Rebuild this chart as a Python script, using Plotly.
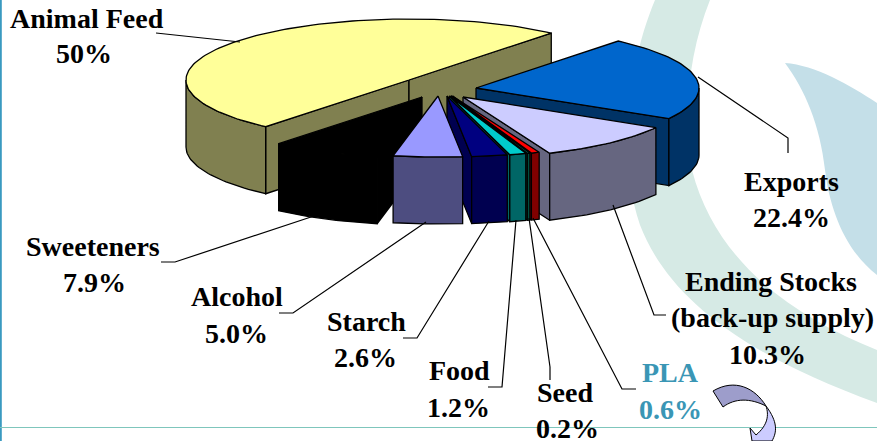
import math
import plotly.graph_objects as go

# ---- data ----
slices = ["Animal Feed", "Exports", "Ending Stocks", "PLA", "Seed", "Food", "Starch", "Alcohol", "Sweeteners"]
values = [50, 22.4, 10.3, 0.6, 0.2, 1.2, 2.6, 5.0, 7.9]

# ---- pie geometry / style ----
W, H = 877, 441
START = 230
RX, RY, DEPTH = 223, 61, 67
apex = {"Animal Feed": (409, 80), "Exports": (476, 88), "Ending Stocks": (463, 97), "PLA": (452.5, 96),
        "Seed": (451, 96), "Food": (449.5, 96), "Starch": (447, 96), "Alcohol": (438, 96), "Sweeteners": (422, 97)}
top_col = {"Animal Feed": "#FFFF99", "Exports": "#0066CC", "Ending Stocks": "#CCCCFF", "PLA": "#FF0000",
           "Seed": "#00806A", "Food": "#00CCCC", "Starch": "#000080", "Alcohol": "#9999FF", "Sweeteners": "#000000"}
side_col = {"Animal Feed": "#808050", "Exports": "#003366", "Ending Stocks": "#666680", "PLA": "#800000",
            "Seed": "#004D40", "Food": "#006666", "Starch": "#000050", "Alcohol": "#4D4D80", "Sweeteners": "#000000"}
paint_order = ["Animal Feed", "Exports", "Ending Stocks", "PLA", "Seed", "Food", "Starch", "Sweeteners", "Alcohol"]

total = sum(values)
angles = {}
cum = 0
for n, v in zip(slices, values):
    a0 = START - cum / total * 360
    cum += v
    angles[n] = (a0, START - cum / total * 360)   # a0 > a1: clockwise on screen


def pt(c, t, dz=0):
    r = math.radians(t)
    return (c[0] + RX * math.cos(r), c[1] - RY * math.sin(r) + dz)


def arc(c, a0, a1, dz=0):
    n = max(2, int(abs(a0 - a1) / 1.5) + 1)
    return [pt(c, a0 + (a1 - a0) * i / (n - 1), dz) for i in range(n)]


fig = go.Figure()


def poly(points, fill):
    xs = [p[0] for p in points] + [points[0][0]]
    ys = [p[1] for p in points] + [points[0][1]]
    fig.add_trace(go.Scatter(x=xs, y=ys, mode="lines", fill="toself", fillcolor=fill,
                             line=dict(color="black", width=1.3), showlegend=False, hoverinfo="skip"))


for n in paint_order:
    c = apex[n]
    a0, a1 = angles[n]
    side = side_col[n]
    # radial walls facing the viewer
    if math.cos(math.radians(a0)) < 0:
        p = pt(c, a0)
        poly([c, p, (p[0], p[1] + DEPTH), (c[0], c[1] + DEPTH)], side)
    if math.cos(math.radians(a1)) > 0:
        p = pt(c, a1)
        poly([c, p, (p[0], p[1] + DEPTH), (c[0], c[1] + DEPTH)], side)
    # outer wall: the part of the rim at the front (180..360 deg)
    for k in (0, -360):
        lo = max(a1, 180 + k)
        hi = min(a0, 360 + k)
        if hi > lo:
            top = arc(c, hi, lo)
            poly(top + arc(c, lo, hi, DEPTH), side)
    # top face
    poly([c] + arc(c, a0, a1), top_col[n])

# leader lines
leaders = [
    [(156, 33), (240, 42)],
    [(698, 77), (788, 138), (788, 153)],
    [(613, 205), (654, 315), (666, 315)],
    [(533, 218), (622, 389), (636, 389)],
    [(529, 218), (550, 367), (550, 380)],
    [(516, 220), (502, 387), (488, 387)],
    [(489, 221), (417, 338), (403, 338)],
    [(426, 222), (293, 313), (279, 313)],
    [(320, 214), (175, 262), (161, 262)],
]
for seg in leaders:
    fig.add_trace(go.Scatter(x=[p[0] for p in seg], y=[p[1] for p in seg], mode="lines",
                             line=dict(color="black", width=1.2), showlegend=False, hoverinfo="skip"))

# labels
BLUE = "#3A96B5"
labels = [
    ("Animal Feed", 87, 18, "black"), ("50%", 84, 53, "black"),
    ("Exports", 791, 181, "black"), ("22.4%", 791, 217, "black"),
    ("Ending Stocks", 771, 281, "black"), ("(back-up supply)", 772, 317, "black"), ("10.3%", 767, 354, "black"),
    ("PLA", 670, 372, BLUE), ("0.6%", 670, 409, BLUE),
    ("Seed", 565, 392, "black"), ("0.2%", 567, 428, "black"),
    ("Food", 459, 370, "black"), ("1.2%", 458, 407, "black"),
    ("Starch", 366, 321, "black"), ("2.6%", 365, 357, "black"),
    ("Alcohol", 237, 296, "black"), ("5.0%", 236, 333, "black"),
    ("Sweeteners", 93, 246, "black"), ("7.9%", 94, 282, "black"),
]
annotations = [dict(x=x, y=y, text=f"<b>{t}</b>", showarrow=False, xanchor="center", yanchor="middle",
                    font=dict(family="Liberation Serif", size=28, color=col)) for t, x, y, col in labels]

shapes = [
    # teal swoosh
    dict(type="path", layer="below", line=dict(width=0), fillcolor="#D6EAE5",
         path="M 655,0 C 630,60 615,150 640,225 C 665,290 730,350 877,403 L 877,350 "
              "C 790,315 715,260 692,170 C 682,110 690,50 710,0 Z"),
    # blue swoosh
    dict(type="path", layer="below", line=dict(width=0), fillcolor="#C4DFE8",
         path="M 785,63 C 815,65 850,85 877,103 L 877,275 C 845,250 830,210 825,170 C 820,125 805,90 785,63 Z"),
    # frame lines
    dict(type="line", layer="below", x0=0.8, x1=0.8, y0=0, y1=441, line=dict(color="#3A9AC0", width=2)),
    dict(type="line", layer="below", x0=0, x1=877, y0=427.5, y1=427.5, line=dict(color="#7FC6BC", width=1.2)),
    # curved arrow
    dict(type="path", line=dict(color="black", width=1), fillcolor="#CCCCFF",
         path="M 766,406 C 778,422 777,432 772,441 L 752,441 L 750,428 L 756,435 C 768,425 769,415 766,406 Z"),
    dict(type="path", line=dict(color="black", width=1), fillcolor="#9D9DCB",
         path="M 713,391 C 735,378 755,388 766,406 C 750,398 735,398 723,407 Z"),
]

fig.update_layout(
    width=W, height=H, margin=dict(l=0, r=0, t=0, b=0),
    paper_bgcolor="white", plot_bgcolor="rgba(0,0,0,0)", showlegend=False,
    xaxis=dict(range=[0, W], visible=False, fixedrange=True),
    yaxis=dict(range=[H, 0], visible=False, fixedrange=True),
    annotations=annotations, shapes=shapes,
)
fig.write_html("out.html", config=dict(displayModeBar=False),
               post_script="document.body.style.margin='0';document.body.style.overflow='hidden';")
